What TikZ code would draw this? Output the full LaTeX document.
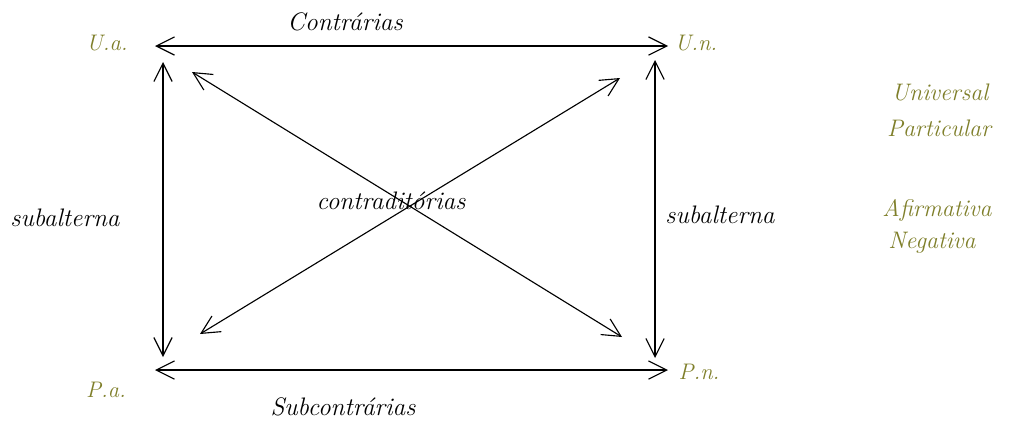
\documentclass[tikz,border=0pt]{standalone}
\usepackage{tikz}
\usetikzlibrary{arrows.meta}
\definecolor{oliveL}{HTML}{7F7F2A}
\tikzset{
  rel/.style={font=\itshape\fontsize{18}{21}\selectfont,text=black},
  corner/.style={font=\itshape\fontsize{16}{19}\selectfont,text=oliveL},
  legend/.style={font=\itshape\fontsize{17}{20}\selectfont,text=oliveL},
  twoway/.style={{Straight Barb[length=13pt,width=13pt]}-{Straight Barb[length=13pt,width=13pt]},line width=0.8pt}
}
\begin{document}
\begin{tikzpicture}[x=0.025cm,y=-0.025cm]
\useasboundingbox[fill=white] (0,0) rectangle (1011,423);
\node[corner] (ua) at (107,43){U.a.};
\node[corner] (un) at (696,43){U.n.};
\node[corner] (pa) at (106,390){P.a.};
\node[corner] (pn) at (699,372){P.n.};
\coordinate (top-l) at (155,46);
\coordinate (top-r) at (668,46);
\coordinate (bot-l) at (155,370);
\coordinate (bot-r) at (668,370);
\coordinate (left-t) at (163,62);
\coordinate (left-b) at (163,357);
\coordinate (right-t) at (655,60);
\coordinate (right-b) at (655,358);
\coordinate (d1-a) at (192,72);
\coordinate (d1-b) at (622,337);
\coordinate (d2-a) at (200,334);
\coordinate (d2-b) at (620,78);
\draw[twoway] (top-l)--(top-r);
\draw[twoway] (bot-l)--(bot-r);
\draw[twoway] (left-t)--(left-b);
\draw[twoway] (right-t)--(right-b);
\draw[twoway] (d1-a)--(d1-b);
\draw[twoway] (d2-a)--(d2-b);
\node[rel] (contr) at (345,22){Contrárias};
\node[rel] (subcontr) at (343,407){Subcontrárias};
\node[rel] (sub-l) at (65,218){subalterna};
\node[rel] (contrad) at (391,201){contraditórias};
\node[rel] (sub-r) at (720,215){subalterna};
\node[legend] (univ) at (940,92){Universal};
\node[legend] (part) at (939,128){Particular};
\node[legend] (afirm) at (937,210){Afirmativa};
\node[legend] (neg) at (932,243){Negativa};
\end{tikzpicture}
\end{document}
